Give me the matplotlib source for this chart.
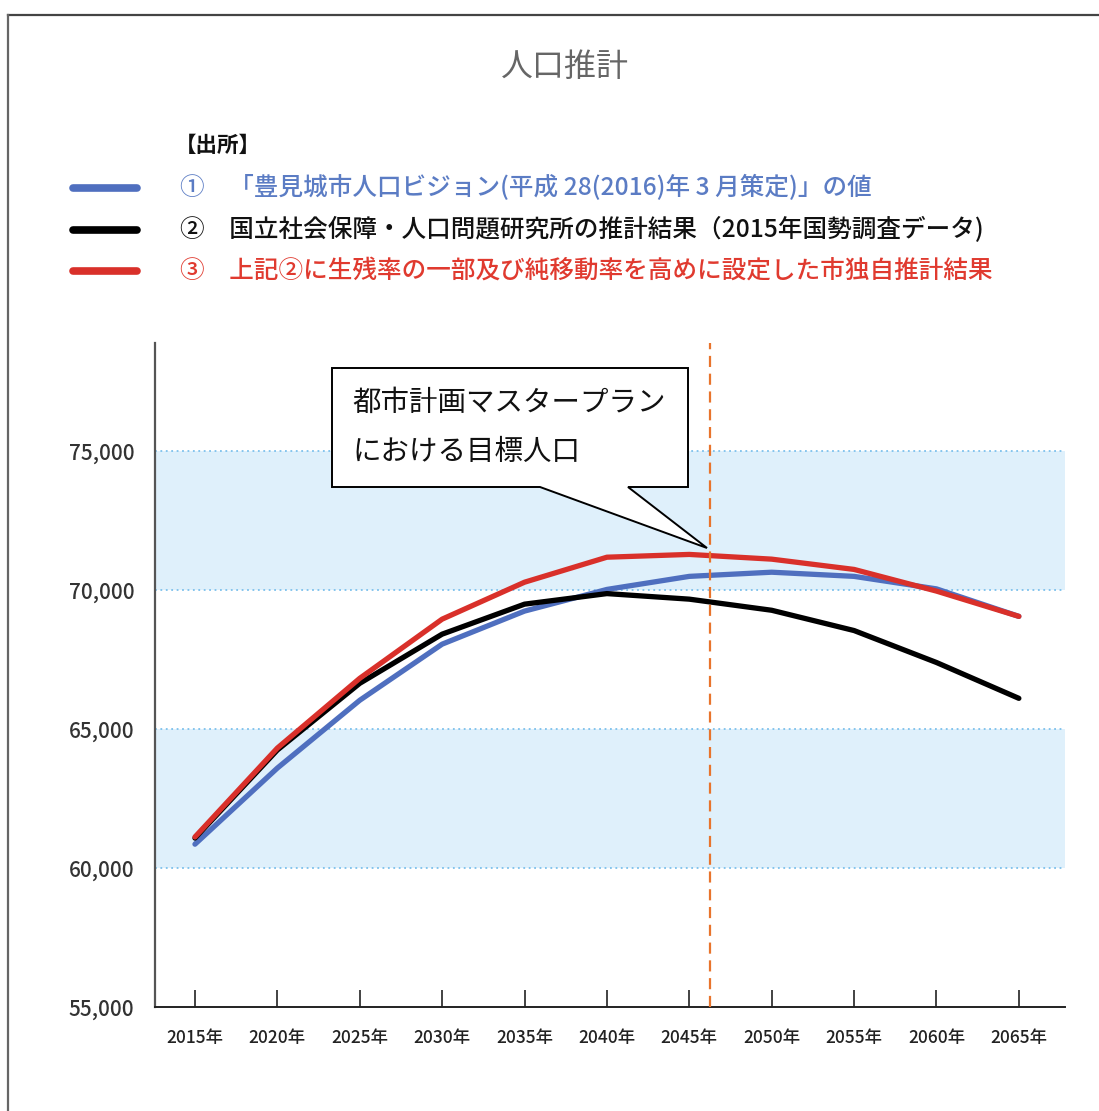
import matplotlib
matplotlib.use("Agg")
import matplotlib.pyplot as plt
from matplotlib.patches import Polygon
from matplotlib.lines import Line2D

plt.rcParams['font.family'] = ['Noto Sans CJK JP', 'DejaVu Sans']

# ---- data ----
years = [2015, 2020, 2025, 2030, 2035, 2040, 2045, 2050, 2055, 2060, 2065]
year_labels = [f"{y}年" for y in years]
vision = [60860, 63600, 66040, 68060, 69250, 70030, 70500, 70650, 70500, 70050, 69060]
ipss = [61080, 64250, 66650, 68420, 69500, 69880, 69680, 69280, 68550, 67400, 66110]
city = [61120, 64320, 66830, 68960, 70290, 71190, 71290, 71120, 70750, 69970, 69060]
yticks = [55000, 60000, 65000, 70000, 75000]
bands = [(60000, 65000), (70000, 75000)]
target_year = 2046.25

legend_texts = [
    "①　「豊見城市人口ビジョン(平成 28(2016)年 3 月策定)」の値",
    "②　国立社会保障・人口問題研究所の推計結果（2015年国勢調査データ)",
    "③　上記②に生残率の一部及び純移動率を高めに設定した市独自推計結果",
]

C_BLUE = "#4f6fbf"
C_BLACK = "#000000"
C_RED = "#d9302a"
C_BLUE_TXT = "#5b7cc4"
C_RED_TXT = "#e03a2f"
series = [(vision, C_BLUE), (ipss, C_BLACK), (city, C_RED)]
text_colors = [C_BLUE_TXT, "#111111", C_RED_TXT]

W, H = 1099, 1111
fig = plt.figure(figsize=(W / 100, H / 100), dpi=100)

def fx(x):
    return x / W

def fy(y):
    return 1 - y / H

# axes placement (pixels): left 155, right 1065, top 343, bottom 1007
ax = fig.add_axes([fx(155), fy(1007), fx(1065) - fx(155), fy(343) - fy(1007)])
x0 = years[0]
step = years[1] - years[0]
xs = [(y - x0) / step for y in years]
ax.set_xlim(-0.485, 10.56)
ax.set_ylim(55000, 78900)

for lo, hi in bands:
    ax.axhspan(lo, hi, color="#dff0fb", zorder=0, lw=0)
for v in yticks[1:]:
    ax.axhline(v, color="#7cc0ec", lw=1.3, ls=(0, (1, 2)), zorder=1)

for vals, col in series:
    ax.plot(xs, vals, color=col, lw=3.8, solid_capstyle="round", solid_joinstyle="round", zorder=3)

ax.axvline((target_year - x0) / step, color="#e8742c", lw=1.6, ls=(0, (5, 3)), zorder=4)

for s in ["top", "right"]:
    ax.spines[s].set_visible(False)
ax.spines["left"].set_color("#555555")
ax.spines["left"].set_linewidth(1.6)
ax.spines["bottom"].set_color("#222222")
ax.spines["bottom"].set_linewidth(1.4)

ax.set_xticks(xs)
ax.set_xticklabels(year_labels, fontsize=12.5, color="#222222", fontweight="medium")
ax.tick_params(axis="x", direction="in", length=12, width=1.2, color="#222222", pad=16)
ax.set_yticks(yticks)
ax.set_yticklabels([f"{v:,}" for v in yticks], fontsize=15, color="#333333", fontweight="medium")
ax.tick_params(axis="y", length=0, pad=15)

# frame border around the whole picture
fig.add_artist(Line2D([fx(8), fx(1099)], [fy(15), fy(15)], color="#444444", lw=1.6))
fig.add_artist(Line2D([fx(8), fx(8)], [fy(15), fy(1111)], color="#666666", lw=1.6))

# title
fig.text(fx(565), fy(67), "人口推計", fontsize=23, color="#666666", ha="center", va="center")

# legend
fig.text(fx(175), fy(145), "【出所】", fontsize=15.5, color="#111111", ha="left", va="center", fontweight="bold")
ly = [188, 230, 271]
for (vals, col), tc, txt, yy in zip(series, text_colors, legend_texts, ly):
    fig.add_artist(Line2D([fx(73), fx(137)], [fy(yy), fy(yy)], color=col, lw=5.5, solid_capstyle="round"))
    fig.text(fx(180), fy(yy), txt, fontsize=17.7, color=tc, ha="left", va="center", fontweight="medium")

# callout
pts = [(332, 368), (688, 368), (688, 487), (628, 487), (707, 548), (540, 487), (332, 487)]
poly = Polygon([(fx(a), fy(b)) for a, b in pts], closed=True, facecolor="white",
               edgecolor="black", lw=1.4, transform=fig.transFigure, zorder=10)
fig.add_artist(poly)
fig.text(fx(352), fy(403), "都市計画マスタープラン", fontsize=20.5, color="#111111",
         ha="left", va="center", zorder=11)
fig.text(fx(352), fy(452), "における目標人口", fontsize=20.5, color="#111111",
         ha="left", va="center", zorder=11)

fig.savefig("out.png", dpi=100, facecolor="white")
